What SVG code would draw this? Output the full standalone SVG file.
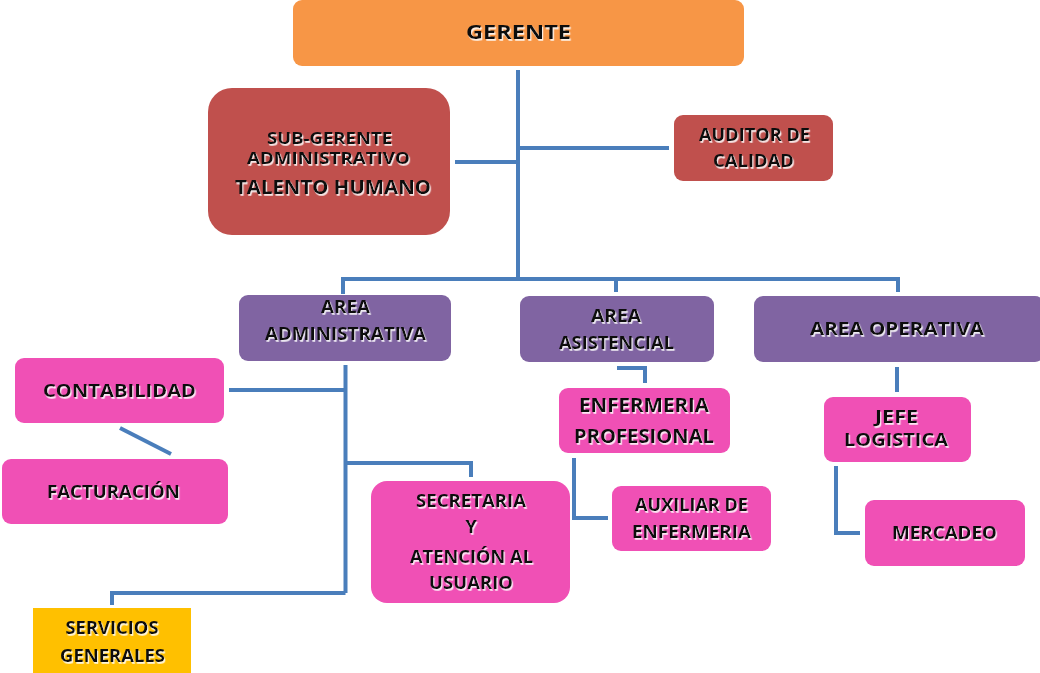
<svg xmlns="http://www.w3.org/2000/svg" width="1040" height="673" viewBox="0 0 1040 673">
<defs>
<filter id="sh" x="-10%" y="-30%" width="120%" height="160%">
<feDropShadow dx="1.2" dy="1.8" stdDeviation="0.6" flood-color="#ffffff" flood-opacity="0.85"/>
</filter>
</defs>
<style>
text{font-family:"Open Sans","Liberation Sans",sans-serif;font-weight:700;fill:#111;text-anchor:middle;filter:url(#sh)}
.org{fill:#F79646}
.red{fill:#C0504D}
.pur{fill:#8064A2}
.pink{fill:#F050B5}
.yel{fill:#FFC000}
#connectors path{fill:none;stroke:#4A7EBB;stroke-width:4}
</style>
<rect width="1040" height="673" fill="#ffffff"/>
<g id="connectors">
<path d="M518 70 V279"/>
<path d="M455 162 H518"/>
<path d="M518 148 H669"/>
<path d="M343 294 V279 H898 V292"/>
<path d="M616 279 V292"/>
<path d="M345.5 365 V593"/>
<path d="M229 390 H345.5"/>
<path d="M120 428 L171 454"/>
<path d="M345.5 463 H471 V477"/>
<path d="M345.5 593 H112 V605"/>
<path d="M617 368 H645 V383"/>
<path d="M574 458 V518 H608"/>
<path d="M897 367 V392"/>
<path d="M836 466 V533 H860"/>
</g>
<g id="gerente"><rect class="org" x="293" y="0" width="451" height="66" rx="9"/><text x="518.5" y="39" font-size="20" textLength="105" lengthAdjust="spacingAndGlyphs">GERENTE</text></g>
<g id="subgerente"><rect class="red" x="208" y="88" width="242" height="147" rx="24"/><text x="329.5" y="144" font-size="16" textLength="125" lengthAdjust="spacingAndGlyphs">SUB-GERENTE</text><text x="328.5" y="164" font-size="16" textLength="163" lengthAdjust="spacingAndGlyphs">ADMINISTRATIVO</text><text x="333" y="194" font-size="19" textLength="196" lengthAdjust="spacingAndGlyphs">TALENTO HUMANO</text></g>
<g id="auditor"><rect class="red" x="674" y="115" width="159" height="66" rx="9"/><text x="754.5" y="141" font-size="18" textLength="111" lengthAdjust="spacingAndGlyphs">AUDITOR DE</text><text x="753.5" y="167" font-size="18" textLength="81" lengthAdjust="spacingAndGlyphs">CALIDAD</text></g>
<g id="area-administrativa"><rect class="pur" x="239" y="295" width="212" height="66" rx="9"/><text x="345.5" y="313" font-size="17.5" textLength="49" lengthAdjust="spacingAndGlyphs">AREA</text><text x="345.5" y="340" font-size="17.5" textLength="161" lengthAdjust="spacingAndGlyphs">ADMINISTRATIVA</text></g>
<g id="area-asistencial"><rect class="pur" x="520" y="296" width="194" height="66" rx="9"/><text x="616" y="322" font-size="17.5" textLength="50" lengthAdjust="spacingAndGlyphs">AREA</text><text x="616.5" y="349" font-size="17.5" textLength="115" lengthAdjust="spacingAndGlyphs">ASISTENCIAL</text></g>
<g id="area-operativa"><rect class="pur" x="754" y="296" width="290" height="66" rx="9"/><text x="897" y="335" font-size="17.5" textLength="174" lengthAdjust="spacingAndGlyphs">AREA OPERATIVA</text></g>
<g id="contabilidad"><rect class="pink" x="15" y="358" width="209" height="65" rx="9"/><text x="119.5" y="397" font-size="18.5" textLength="153" lengthAdjust="spacingAndGlyphs">CONTABILIDAD</text></g>
<g id="facturacion"><rect class="pink" x="2" y="459" width="226" height="65" rx="9"/><text x="113.5" y="498" font-size="18.5" textLength="133" lengthAdjust="spacingAndGlyphs">FACTURACIÓN</text></g>
<g id="secretaria"><rect class="pink" x="371" y="481" width="199" height="122" rx="16"/><text x="471" y="507" font-size="18" textLength="110" lengthAdjust="spacingAndGlyphs">SECRETARIA</text><text x="471" y="533" font-size="18">Y</text><text x="471.5" y="563" font-size="18" textLength="123" lengthAdjust="spacingAndGlyphs">ATENCIÓN AL</text><text x="471" y="589" font-size="18" textLength="84" lengthAdjust="spacingAndGlyphs">USUARIO</text></g>
<g id="servicios"><rect class="yel" x="33" y="608" width="158" height="70"/><text x="112" y="634" font-size="17" textLength="93" lengthAdjust="spacingAndGlyphs">SERVICIOS</text><text x="112.5" y="662" font-size="17" textLength="105" lengthAdjust="spacingAndGlyphs">GENERALES</text></g>
<g id="enfermeria"><rect class="pink" x="559" y="388" width="171" height="65" rx="9"/><text x="644" y="412" font-size="19" textLength="130" lengthAdjust="spacingAndGlyphs">ENFERMERIA</text><text x="644" y="443" font-size="19" textLength="140" lengthAdjust="spacingAndGlyphs">PROFESIONAL</text></g>
<g id="auxiliar"><rect class="pink" x="612" y="486" width="159" height="65" rx="9"/><text x="691.5" y="511" font-size="18" textLength="113" lengthAdjust="spacingAndGlyphs">AUXILIAR DE</text><text x="691.5" y="538" font-size="18" textLength="119" lengthAdjust="spacingAndGlyphs">ENFERMERIA</text></g>
<g id="jefe"><rect class="pink" x="824" y="397" width="147" height="65" rx="9"/><text x="896.5" y="423" font-size="18" textLength="43" lengthAdjust="spacingAndGlyphs">JEFE</text><text x="896" y="446" font-size="18" textLength="104" lengthAdjust="spacingAndGlyphs">LOGISTICA</text></g>
<g id="mercadeo"><rect class="pink" x="865" y="500" width="160" height="66" rx="9"/><text x="944.5" y="539" font-size="18.5" textLength="105" lengthAdjust="spacingAndGlyphs">MERCADEO</text></g>
</svg>
